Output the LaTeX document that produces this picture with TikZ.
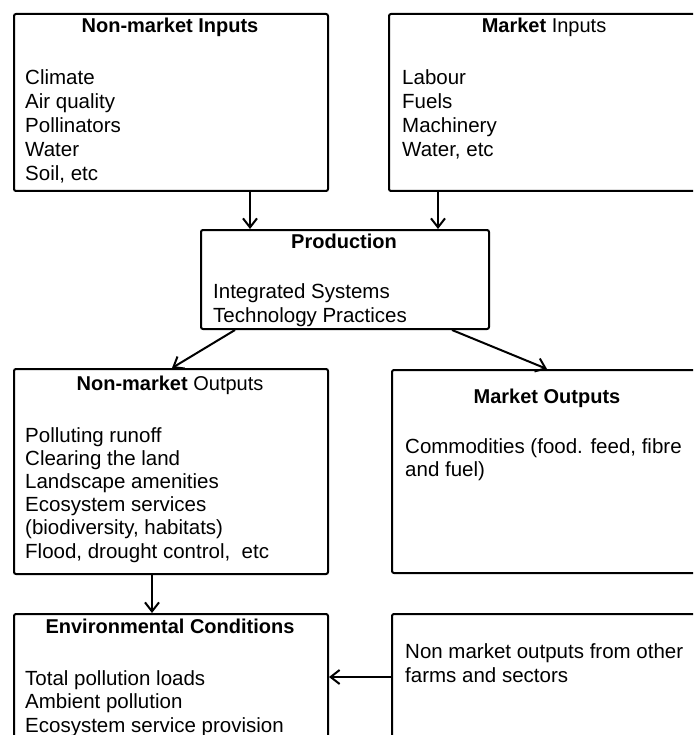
\documentclass[tikz,border=0pt]{standalone}
\usepackage{fontspec}
\setmainfont{Liberation Sans}
\usetikzlibrary{arrows.meta}
\begin{document}
\begin{tikzpicture}[x=1pt,y=-1pt,
  box/.style={draw, line width=2pt, rounded corners=2pt, inner sep=0pt, anchor=north west},
  title/.style={font=\fontsize{20}{24}\selectfont, anchor=base, inner sep=0pt},
  body/.style={font=\fontsize{20.5}{24}\selectfont, anchor=base west, inner sep=0pt},
  arr/.style={line width=2pt, -{Straight Barb[length=9pt,width=14pt,line width=2pt]}}
]
\useasboundingbox (0,0) rectangle (693,735);
\clip (0,0) rectangle (693,735);

% boxes
\node[box, minimum width=314pt, minimum height=177pt] (nmi)  at (13,13)  {};
\node[box, minimum width=320pt, minimum height=177pt] (mi)   at (388,13) {};
\node[box, minimum width=288pt, minimum height=99pt]  (prod) at (200,229) {};
\node[box, minimum width=314pt, minimum height=205pt] (nmo)  at (13,368) {};
\node[box, minimum width=320pt, minimum height=203pt] (mo)   at (391,369) {};
\node[box, minimum width=314pt, minimum height=150pt] (env)  at (13,613) {};
\node[box, minimum width=320pt, minimum height=150pt] (oth)  at (391,613) {};

% headings
\node[title] (nmi-t)  at (170,33)  {\textbf{Non-market Inputs}};
\node[title] (mi-t)   at (544,33)  {\textbf{Market} Inputs};
\node[title] (prod-t) at (344,248) {\textbf{Production}};
\node[title] (nmo-t)  at (170,390) {\textbf{Non-market} Outputs};
\node[title] (mo-t)   at (547,403) {\textbf{Market Outputs}};
\node[title] (env-t)  at (170,633) {\textbf{Environmental Conditions}};

% item lists
\foreach \t [count=\i from 0] in {Climate, Air quality, Pollinators, Water, {Soil, etc}}
  \node[body] (nmi-\i) at (25,{85+24*\i}) {\t};
\foreach \t [count=\i from 0] in {Labour, Fuels, Machinery, {Water, etc}}
  \node[body] (mi-\i) at (402,{85+24*\i}) {\t};
\foreach \t [count=\i from 0] in {Integrated Systems, Technology Practices}
  \node[body] (prod-\i) at (213,{298+24*\i}) {\t};
\foreach \t [count=\i from 0] in {Polluting runoff, Clearing the land, Landscape amenities,
    Ecosystem services, {(biodiversity, habitats)}, {Flood, drought control, \ etc}}
  \node[body] (nmo-\i) at (25,{442+23.2*\i}) {\t};
\foreach \t [count=\i from 0] in {{Commodities (food. feed, fibre}, and fuel)}
  \node[body] (mo-\i) at (405,{453+23*\i}) {\t};
\foreach \t [count=\i from 0] in {Total pollution loads, Ambient pollution, Ecosystem service provision}
  \node[body] (env-\i) at (25,{685+23.5*\i}) {\t};
\foreach \t [count=\i from 0] in {Non market outputs from other, farms and sectors}
  \node[body] (oth-\i) at (405,{658+24*\i}) {\t};

% connectors
\coordinate (c1) at (250,0);
\coordinate (c2) at (438,0);
\coordinate (c5) at (152,0);
\coordinate (c6) at (0,677);
\draw[arr] (nmi.south -| c1) -- (prod.north -| c1);
\draw[arr] (mi.south -| c2) -- (prod.north -| c2);
\draw[arr] ([xshift=35pt]prod.south west) -- ([xshift=159pt]nmo.north west);
\draw[arr] ([xshift=252pt]prod.south west) -- ([xshift=156pt]mo.north west);
\draw[arr] (nmo.south -| c5) -- (env.north -| c5);
\draw[arr] (oth.west |- c6) -- (env.east |- c6);
\end{tikzpicture}
\end{document}
